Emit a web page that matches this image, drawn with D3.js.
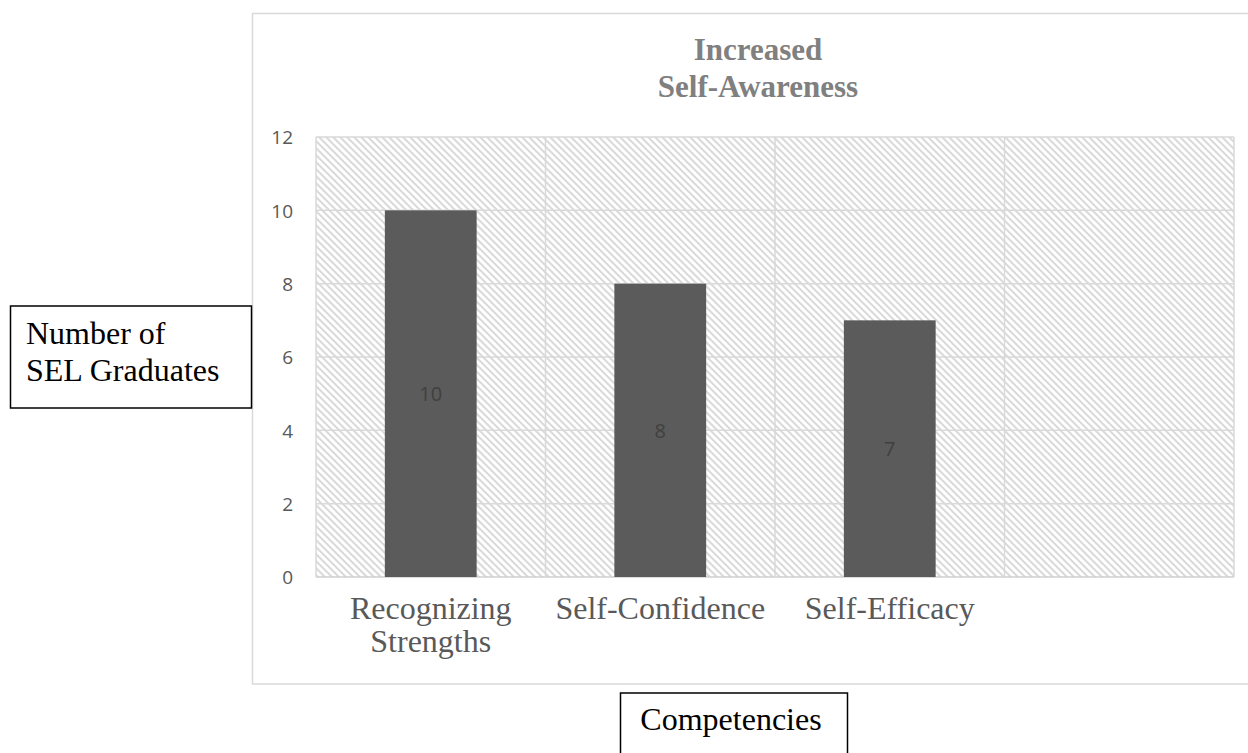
<!DOCTYPE html>
<html>
<head>
<meta charset="utf-8">
<script src="https://cdn.jsdelivr.net/npm/d3@7"></script>
<style>
  html, body { margin: 0; padding: 0; background: #ffffff; }
  svg { display: block; }
</style>
</head>
<body>
<svg id="chart" width="1248" height="753"></svg>
<script>
// ---- data ----
const categories = ["Recognizing\nStrengths", "Self-Confidence", "Self-Efficacy", ""];
const values = [10, 8, 7, null];
const yTicks = [0, 2, 4, 6, 8, 10, 12];
const titleLines = ["Increased", "Self-Awareness"];
const yTitleLines = ["Number of", "SEL Graduates"];
const xTitle = "Competencies";

// ---- layout ----
const svg = d3.select("#chart");
const plot = { left: 316, right: 1234, top: 137, bottom: 577 };

const x = d3.scaleBand().domain(categories).range([plot.left, plot.right]).padding(0);
const y = d3.scaleLinear().domain([0, 12]).range([plot.bottom, plot.top]);

// hatch pattern
const defs = svg.append("defs");
const P = 7;
const pat = defs.append("pattern")
  .attr("id", "hatch").attr("patternUnits", "userSpaceOnUse")
  .attr("width", P).attr("height", P);
pat.append("rect").attr("width", P).attr("height", P).attr("fill", "#ffffff");
pat.append("path")
  .attr("d", `M-2,-2 L${P + 2},${P + 2} M-2,${P - 2} L2,${P + 2} M${P - 2},-2 L${P + 2},2`)
  .attr("stroke", "#dadada").attr("stroke-width", 2).attr("fill", "none");

// outer chart area border
svg.append("rect")
  .attr("x", 252.5).attr("y", 13.5).attr("width", 1100).attr("height", 670.5)
  .attr("fill", "#ffffff").attr("stroke", "#d9d9d9").attr("stroke-width", 1.5);

// plot area fill
svg.append("rect")
  .attr("x", plot.left).attr("y", plot.top)
  .attr("width", plot.right - plot.left).attr("height", plot.bottom - plot.top)
  .attr("fill", "url(#hatch)");

// horizontal gridlines
svg.append("g").selectAll("line").data(yTicks).join("line")
  .attr("x1", plot.left).attr("x2", plot.right)
  .attr("y1", d => y(d)).attr("y2", d => y(d))
  .attr("stroke", d => d === 0 ? "#cfcfcf" : "#d9d9d9").attr("stroke-width", 1.5);

// vertical gridlines at band boundaries
const bounds = categories.map(c => x(c)).concat([x(categories[categories.length - 1]) + x.bandwidth()]);
svg.append("g").selectAll("line").data(bounds).join("line")
  .attr("x1", d => d).attr("x2", d => d)
  .attr("y1", plot.top).attr("y2", plot.bottom)
  .attr("stroke", "#d9d9d9").attr("stroke-width", 1.5);

// bars
const bw = x.bandwidth();
const barData = categories.map((c, i) => ({ c, v: values[i] })).filter(d => d.v != null);
svg.append("g").selectAll("rect").data(barData).join("rect")
  .attr("x", d => x(d.c) + bw * 0.3)
  .attr("width", bw * 0.4)
  .attr("y", d => y(d.v))
  .attr("height", d => y(0) - y(d.v))
  .attr("fill", "#5b5b5b");

// data labels
svg.append("g").selectAll("text").data(barData).join("text")
  .attr("x", d => x(d.c) + bw / 2)
  .attr("y", d => (y(d.v) + y(0)) / 2)
  .attr("text-anchor", "middle").attr("dominant-baseline", "central")
  .attr("font-family", "'Open Sans', sans-serif").attr("font-size", 20)
  .attr("fill", "#404040")
  .text(d => d.v);

// y axis tick labels
const yAxis = d3.axisLeft(y).tickValues(yTicks).tickSize(0).tickPadding(23);
const gy = svg.append("g").attr("transform", `translate(${plot.left},0)`).call(yAxis);
gy.select(".domain").remove();
gy.selectAll("text")
  .attr("font-family", "'Open Sans', sans-serif").attr("font-size", 19)
  .attr("fill", "#595959").attr("dy", "0.36em");

// x axis category labels
const xl = svg.append("g").selectAll("text").data(categories).join("text")
  .attr("x", d => x(d) + bw / 2)
  .attr("y", 619)
  .attr("text-anchor", "middle")
  .attr("font-family", "'Liberation Serif', 'Times New Roman', serif").attr("font-size", 32)
  .attr("fill", "#595959");
xl.selectAll("tspan").data(d => d.split("\n")).join("tspan")
  .attr("x", function () { return d3.select(this.parentNode).attr("x"); })
  .attr("dy", (d, i) => i === 0 ? 0 : 33)
  .text(d => d);

// chart title
svg.append("text")
  .attr("x", 758).attr("y", 60)
  .attr("text-anchor", "middle")
  .attr("font-family", "'Liberation Serif', 'Times New Roman', serif")
  .attr("font-size", 31).attr("font-weight", "bold").attr("fill", "#808080")
  .selectAll("tspan").data(titleLines).join("tspan")
  .attr("x", 758).attr("dy", (d, i) => i === 0 ? 0 : 36.5)
  .text(d => d);

// y-axis title box
svg.append("rect")
  .attr("x", 10.5).attr("y", 306).attr("width", 241).attr("height", 102)
  .attr("fill", "#ffffff").attr("stroke", "#000000").attr("stroke-width", 1.5);
svg.append("text")
  .attr("x", 26).attr("y", 343.5)
  .attr("font-family", "'Liberation Serif', 'Times New Roman', serif")
  .attr("font-size", 32).attr("fill", "#000000")
  .selectAll("tspan").data(yTitleLines).join("tspan")
  .attr("x", 26).attr("dy", (d, i) => i === 0 ? 0 : 37)
  .text(d => d);

// x-axis title box
svg.append("rect")
  .attr("x", 620.5).attr("y", 693).attr("width", 227).attr("height", 80)
  .attr("fill", "#ffffff").attr("stroke", "#000000").attr("stroke-width", 1.5);
svg.append("text")
  .attr("x", 731).attr("y", 730)
  .attr("text-anchor", "middle")
  .attr("font-family", "'Liberation Serif', 'Times New Roman', serif")
  .attr("font-size", 32).attr("fill", "#000000")
  .text(xTitle);
</script>
</body>
</html>
